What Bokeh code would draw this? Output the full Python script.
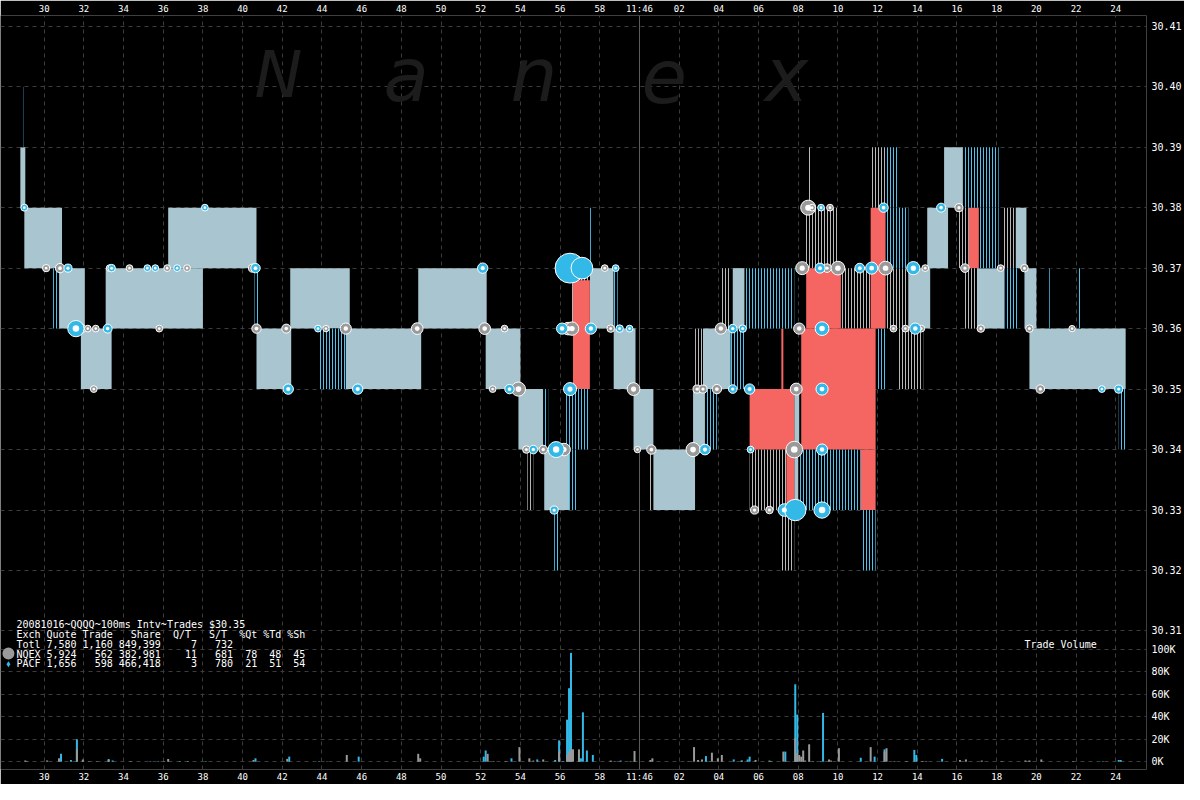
import numpy as np
from bokeh.plotting import figure
from bokeh.models import Range1d, LinearAxis, FixedTicker, Span, Label
from bokeh.embed import file_html
from bokeh.resources import INLINE

# ------------------------------------------------------------------ data
# time = seconds after 11:45:00 ; prices in $
time_ticks = list(range(30, 86, 2))
price_ticks = [30.31, 30.32, 30.33, 30.34, 30.35, 30.36, 30.37, 30.38, 30.39, 30.40, 30.41]
volume_ticks = [0, 20000, 40000, 60000, 80000, 100000]
volume_tick_labels = ["0K", "20K", "40K", "60K", "80K", "100K"]

# quote spread bands (t_start, t_end, bid, ask)
quote_solid = [
    (28.8, 29.05, 30.38, 30.39), (29.0, 30.9, 30.37, 30.38), (30.75, 32.05, 30.36, 30.37),
    (31.85, 33.4, 30.35, 30.36), (33.1, 38.0, 30.36, 30.37), (36.25, 40.7, 30.37, 30.38),
    (40.7, 42.45, 30.35, 30.36), (42.4, 45.4, 30.36, 30.37), (45.15, 49.0, 30.35, 30.36),
    (48.85, 52.3, 30.36, 30.37), (52.25, 54.0, 30.35, 30.36), (53.9, 55.15, 30.34, 30.35),
    (55.2, 56.45, 30.33, 30.34), (57.5, 58.7, 30.36, 30.37), (58.7, 59.8, 30.35, 30.36),
    (59.7, 60.7, 30.34, 30.35), (60.7, 62.8, 30.33, 30.34), (62.7, 63.3, 30.34, 30.35),
    (63.2, 64.6, 30.35, 30.36), (64.7, 65.3, 30.36, 30.37), (67.8, 68.05, 30.33, 30.35),
    (73.45, 74.65, 30.36, 30.37), (74.5, 75.55, 30.37, 30.38), (75.35, 76.3, 30.38, 30.39),
    (77.0, 78.4, 30.36, 30.37), (78.95, 79.5, 30.37, 30.38), (79.4, 80.0, 30.36, 30.37),
    (79.65, 84.5, 30.35, 30.36),
]
quote_nq_sparse = [
    (54.35, 54.65, 30.33, 30.34), (56.6, 57.5, 30.36, 30.37), (60.5, 60.7, 30.33, 30.34),
    (62.8, 63.2, 30.35, 30.36), (64.1, 64.6, 30.36, 30.37), (65.55, 67.4, 30.33, 30.34),
    (67.15, 67.8, 30.32, 30.33), (68.3, 70.05, 30.37, 30.38), (68.5, 68.6, 30.38, 30.39),
    (70.15, 71.65, 30.36, 30.37), (71.65, 72.4, 30.38, 30.39), (72.45, 73.55, 30.36, 30.37),
    (73.0, 74.3, 30.35, 30.36), (76.1, 76.6, 30.37, 30.38), (78.3, 78.95, 30.37, 30.38),
    (76.4, 77.0, 30.36, 30.37),
]
quote_pa_sparse = [
    (28.85, 28.95, 30.39, 30.40), (30.45, 30.75, 30.36, 30.37), (40.6, 40.8, 30.36, 30.37),
    (43.8, 45.2, 30.35, 30.36), (55.15, 55.4, 30.34, 30.35), (55.7, 55.9, 30.32, 30.33),
    (56.45, 56.9, 30.33, 30.34), (56.3, 57.45, 30.34, 30.35), (57.45, 57.55, 30.37, 30.38),
    (58.7, 58.9, 30.36, 30.37), (63.3, 63.9, 30.34, 30.35), (64.6, 65.35, 30.35, 30.36),
    (65.3, 67.8, 30.36, 30.37), (68.0, 71.15, 30.33, 30.34), (71.2, 71.9, 30.32, 30.33),
    (72.4, 73.05, 30.38, 30.39), (72.4, 73.55, 30.37, 30.38), (71.95, 72.45, 30.35, 30.36),
    (76.3, 78.1, 30.38, 30.39), (77.1, 78.1, 30.37, 30.38), (78.4, 79.1, 30.36, 30.37),
    (80.65, 80.75, 30.36, 30.37), (82.15, 82.25, 30.36, 30.37), (84.15, 84.5, 30.34, 30.35),
]
quote_crossed = [
    (56.65, 57.5, 30.35, 30.368), (65.55, 67.8, 30.34, 30.35), (67.4, 67.8, 30.33, 30.34),
    (67.15, 67.25, 30.35, 30.36), (68.4, 70.15, 30.36, 30.37), (68.15, 71.9, 30.34, 30.36),
    (71.15, 71.9, 30.33, 30.34), (71.65, 72.4, 30.36, 30.38), (76.6, 77.1, 30.37, 30.38),
]

# trades (time, price, shares)
nq_trades = [
    (30.1, 30.37, 800), (30.8, 30.37, 3000), (31.65, 30.36, 11000), (31.9, 30.36, 2000),
    (32.2, 30.36, 500), (32.6, 30.36, 500), (32.5, 30.35, 500), (33.3, 30.37, 500),
    (34.3, 30.37, 500), (36.2, 30.37, 500), (37.2, 30.37, 500), (35.8, 30.36, 500),
    (40.5, 30.37, 1500), (40.7, 30.36, 3000), (42.2, 30.36, 2500), (44.2, 30.36, 300),
    (45.2, 30.36, 6000), (48.8, 30.36, 7000), (52.2, 30.36, 7000), (53.2, 30.36, 500),
    (52.6, 30.35, 500), (53.9, 30.35, 13000), (54.3, 30.34, 1000), (55.15, 30.34, 2000),
    (56.2, 30.34, 9000), (56.4, 30.36, 9000), (56.6, 30.36, 11000), (58.25, 30.37, 500),
    (58.55, 30.36, 1000), (59.7, 30.35, 9500), (59.9, 30.34, 300), (60.6, 30.34, 3000),
    (62.9, 30.35, 1500), (63.2, 30.35, 1500), (62.7, 30.34, 13000), (63.9, 30.35, 3000),
    (64.1, 30.36, 6000), (67.9, 30.35, 7500), (67.8, 30.34, 21000), (65.8, 30.33, 1500),
    (66.55, 30.33, 1000), (68.5, 30.38, 15500), (68.7, 30.38, 500), (69.6, 30.38, 500),
    (68.2, 30.37, 10000), (69.45, 30.37, 2000), (70.0, 30.37, 12000), (72.4, 30.37, 12000),
    (74.4, 30.37, 500), (76.1, 30.38, 1500), (68.05, 30.36, 6000), (72.8, 30.36, 500),
    (73.4, 30.36, 500), (74.2, 30.36, 500), (76.4, 30.37, 2000), (78.2, 30.37, 500),
    (79.4, 30.37, 1000), (77.2, 30.36, 1000), (79.65, 30.36, 1000), (81.8, 30.36, 300),
    (80.2, 30.35, 2000),
]
pa_trades = [
    (29.0, 30.38, 600), (31.2, 30.37, 1500), (31.6, 30.36, 20000), (33.2, 30.36, 2500),
    (33.4, 30.37, 1000), (35.2, 30.37, 500), (35.6, 30.37, 500), (36.7, 30.37, 500),
    (38.1, 30.38, 500), (40.65, 30.37, 3000), (42.3, 30.35, 4500), (43.8, 30.36, 500),
    (45.8, 30.35, 4500), (52.1, 30.37, 4500), (53.45, 30.35, 3000), (54.65, 30.34, 2000),
    (55.8, 30.34, 19000), (55.7, 30.33, 1500), (56.3, 30.37, 37500), (56.4, 30.37, 65500),
    (56.5, 30.37, 97000), (57.1, 30.37, 44000), (56.1, 30.36, 6000), (57.55, 30.36, 6000),
    (56.5, 30.35, 10000), (58.8, 30.37, 500), (59.0, 30.36, 1000), (59.5, 30.36, 500),
    (63.3, 30.34, 5000), (64.7, 30.36, 2000), (65.2, 30.36, 1000), (64.7, 30.35, 2000),
    (65.55, 30.35, 4500), (69.2, 30.35, 8000), (65.6, 30.34, 500), (69.2, 30.34, 6000),
    (67.3, 30.33, 9000), (67.85, 30.33, 42000), (69.2, 30.33, 20000), (69.15, 30.38, 500),
    (69.1, 30.37, 4000), (71.1, 30.37, 3500), (71.7, 30.37, 8000), (73.8, 30.37, 10500),
    (72.3, 30.38, 3000), (75.2, 30.38, 2500), (69.2, 30.36, 12000), (73.9, 30.36, 6000),
    (83.3, 30.35, 500), (84.15, 30.35, 1500),
]

# trade volume per 100ms interval (interval start, shares)
nq_volume = [
    (29.0, 1000), (30.1, 1000), (30.7, 3000), (31.6, 11000), (31.9, 2000), (32.2, 500),
    (32.6, 500), (33.2, 1500), (34.3, 500), (36.0, 500), (36.2, 2500), (37.2, 500),
    (40.5, 1500), (42.2, 2500), (44.2, 300), (45.2, 6000), (48.8, 7000), (48.9, 3000),
    (51.8, 300), (52.3, 7000), (52.6, 500), (53.2, 500), (53.9, 13000), (54.4, 3000),
    (54.6, 1000), (55.1, 2000), (55.9, 9000), (56.3, 6000), (56.4, 9000), (56.5, 11000),
    (56.6, 11000), (56.9, 11000), (58.5, 1000), (58.7, 500), (59.7, 9500), (59.8, 300),
    (60.5, 1500), (60.6, 3000), (62.4, 300), (62.7, 13000), (62.9, 1500), (63.1, 2000),
    (63.6, 8000), (63.9, 3000), (64.1, 6000), (65.1, 1000), (65.8, 1500), (66.5, 1000),
    (67.2, 9000), (67.5, 300), (67.8, 21000), (67.9, 7500), (68.0, 6000), (68.1, 4500),
    (68.2, 10000), (68.3, 1000), (68.5, 15500), (68.7, 500), (69.5, 2000), (69.6, 1000),
    (70.0, 12000), (71.6, 13000), (72.3, 9000), (72.4, 12000), (72.8, 500), (73.4, 500),
    (74.2, 500), (74.4, 500), (76.1, 1500), (76.4, 2000), (77.2, 1000), (78.2, 500),
    (79.4, 1000), (79.6, 1000), (80.2, 2000), (81.8, 300),
]
pa_volume = [
    (29.1, 500), (30.8, 7000), (31.3, 1500), (31.6, 20000), (33.2, 2500), (33.4, 1000),
    (35.3, 500), (35.7, 500), (36.8, 500), (38.1, 500), (40.6, 3000), (42.3, 4500),
    (43.8, 300), (45.8, 4500), (52.1, 4500), (52.2, 10000), (53.5, 3000), (54.8, 2000),
    (55.7, 1500), (55.9, 19000), (56.1, 500), (56.3, 37500), (56.4, 65500), (56.5, 97000),
    (56.9, 3000), (57.0, 3000), (57.1, 44000), (57.3, 10000), (57.6, 6000), (59.0, 1000),
    (59.5, 500), (63.3, 5000), (63.5, 500), (64.7, 2000), (65.1, 1000), (65.4, 2000),
    (65.5, 4500), (66.6, 500), (67.3, 9000), (67.8, 69000), (67.9, 42000), (69.1, 500),
    (69.2, 43500), (71.1, 3500), (71.8, 4500), (72.3, 11000), (73.8, 10500), (73.9, 6000),
    (75.2, 2500), (79.6, 500), (83.3, 500), (84.1, 1500), (84.2, 1500),
]

summary_lines = [
    "20081016~QQQQ~100ms Intv~Trades $30.35",
    "Exch Quote Trade   Share  Q/T   S/T  %Qt %Td %Sh",
    "Totl 7,580 1,160 849,399     7   732",
    "NQEX 5,924   562 382,981    11   681  78  48  45",
    "PACF 1,656   598 466,418     3   780  21  51  54",
]
watermark = ["N", "a", "n", "e", "x"]

# ------------------------------------------------------------------ layout helpers
W, H = 1184, 784
# reference frame extents (pixels of the original 1200x800 picture)
REF_L, REF_R, REF_T, REF_B = 0, 1155, 12, 785


def t_at(xs):
    return 30 + (xs - 44) / 20.0


def p_at(ys):
    return 30.41 - (ys - 23) / 6200.0


y_lo, y_hi = p_at(REF_B), p_at(REF_T)
pv0, pv100 = p_at(777), p_at(662)
vol_per_price = 100000.0 / (pv100 - pv0)

NQ_GRAY = "#9a9a9a"
PA_BLUE = "#33b9e8"
WHITE = "#ffffff"
MONO = "DejaVu Sans Mono"
NBSP = "\u00a0"

p = figure(width=W, height=H, output_backend="svg", toolbar_location=None,
           x_range=Range1d(t_at(REF_L), t_at(REF_R)), y_range=Range1d(y_lo, y_hi),
           x_axis_location="above", y_axis_location="right",
           min_border_left=0, min_border_right=0, min_border_top=0, min_border_bottom=0,
           background_fill_color="black", border_fill_color="black", outline_line_color=None)
p.extra_y_ranges = {"vol": Range1d((y_lo - pv0) * vol_per_price, (y_hi - pv0) * vol_per_price)}

# axes
x_ticker = FixedTicker(ticks=time_ticks, minor_ticks=[])
x_labels = {}
for t in time_ticks:
    x_labels[t] = str(t) if t < 60 else ("11:46" if t == 60 else "%02d" % (t - 60))
bottom_axis = LinearAxis()
p.add_layout(bottom_axis, "below")
for ax in (p.xaxis[0], bottom_axis):
    ax.ticker = x_ticker
    ax.major_label_overrides = x_labels
    ax.axis_line_color = None
    ax.major_tick_line_color = None
    ax.minor_tick_line_color = None
    ax.major_tick_out = 0
    ax.major_label_standoff = 2
    ax.major_label_text_color = WHITE
    ax.major_label_text_font = MONO
    ax.major_label_text_font_size = "9px"

vol_tick_pos = [pv0 + v / vol_per_price for v in volume_ticks]
y_ticker = FixedTicker(ticks=price_ticks + vol_tick_pos, minor_ticks=[])
y_labels = {pt: "%.2f" % pt for pt in price_ticks}
y_labels.update({pos: lab for pos, lab in zip(vol_tick_pos, volume_tick_labels)})
yax = p.yaxis[0]
yax.ticker = y_ticker
yax.major_label_overrides = y_labels
yax.axis_line_color = None
yax.major_tick_line_color = None
yax.minor_tick_line_color = None
yax.major_tick_out = 0
yax.major_label_standoff = 5
yax.major_label_text_color = WHITE
yax.major_label_text_font = MONO
yax.major_label_text_font_size = "10px"

p.xgrid.ticker = x_ticker
p.ygrid.ticker = y_ticker
for g in (p.xgrid[0], p.ygrid[0]):
    g.grid_line_color = "#3c3c3c"
    g.grid_line_dash = "4 4"
    g.grid_line_width = 1

p.add_layout(Span(location=60, dimension="height", line_color="#5e5e5e", line_width=1, level="underlay"))

# watermark
for letter, xs in zip(watermark, [256, 386, 514, 646, 770]):
    p.add_layout(Label(x=t_at(xs), y=p_at(73), text=letter, text_font="DejaVu Sans",
                       text_font_style="italic", text_font_size="64px" if letter == "N" else "74px",
                       text_color="#1c1c1c", text_baseline="alphabetic", level="underlay"))


def cols(rows):
    return [list(c) for c in zip(*rows)]


# quote bands
t0, t1, lo, hi = cols(quote_solid)
p.quad(left=t0, right=t1, bottom=lo, top=hi, fill_color="#a8c5d0", line_color=None)
t0, t1, lo, hi = cols(quote_nq_sparse)
p.quad(left=t0, right=t1, bottom=lo, top=hi, fill_color="black", line_color=None,
       hatch_pattern="vertical_line", hatch_color="#b8b8b8", hatch_scale=3, hatch_weight=1)
t0, t1, lo, hi = cols(quote_pa_sparse)
p.quad(left=t0, right=t1, bottom=lo, top=hi, fill_color="black", line_color=None,
       hatch_pattern="vertical_line", hatch_color="#4cc3ee", hatch_scale=3, hatch_weight=1)
t0, t1, lo, hi = cols(quote_crossed)
p.quad(left=t0, right=t1, bottom=lo, top=hi, fill_color="#f56663", line_color=None)


# trades
def trade_size(sh):
    return 5 + 0.08 * np.sqrt(np.array(sh, dtype=float))


for rows, color in ((nq_trades, NQ_GRAY), (pa_trades, PA_BLUE)):
    tt, pp, sh = cols(rows)
    sz = trade_size(sh)
    p.scatter(tt, pp, size=sz, marker="circle", fill_color=color, line_color=WHITE, line_width=1)
    small = np.array(sh) < 30000
    p.scatter(list(np.array(tt)[small]), list(np.array(pp)[small]), size=list(sz[small] * 0.4),
              marker="circle", fill_color=WHITE, line_color=None)

# volume bars (PACF first, NQEX over it)
for rows, color in ((pa_volume, PA_BLUE), (nq_volume, NQ_GRAY)):
    tt, vv = cols(rows)
    p.vbar(x=[t + 0.05 for t in tt], width=0.1, top=vv, bottom=0, y_range_name="vol",
           fill_color=color, line_color=None)

# summary text block
for i, line in enumerate(summary_lines):
    p.add_layout(Label(x=t_at(16), y=p_at(636 + 10.2 * i), text=line.replace(" ", NBSP),
                       text_font=MONO, text_font_size="10px", text_color=WHITE,
                       text_baseline="middle"))
p.scatter([t_at(8)], [p_at(666)], size=12, marker="circle", fill_color=NQ_GRAY, line_color=None)
p.scatter([t_at(8)], [p_at(677)], size=6, marker="diamond", fill_color=PA_BLUE, line_color=None)
p.add_layout(Label(x=t_at(1032), y=p_at(657), text="Trade" + NBSP + "Volume", text_font=MONO,
                   text_font_size="10px", text_color=WHITE, text_baseline="middle"))

html = file_html(p, INLINE)
html = html.replace("<body>", '<body style="background-color:#000000;">', 1)
open("out.html", "w").write(html)
